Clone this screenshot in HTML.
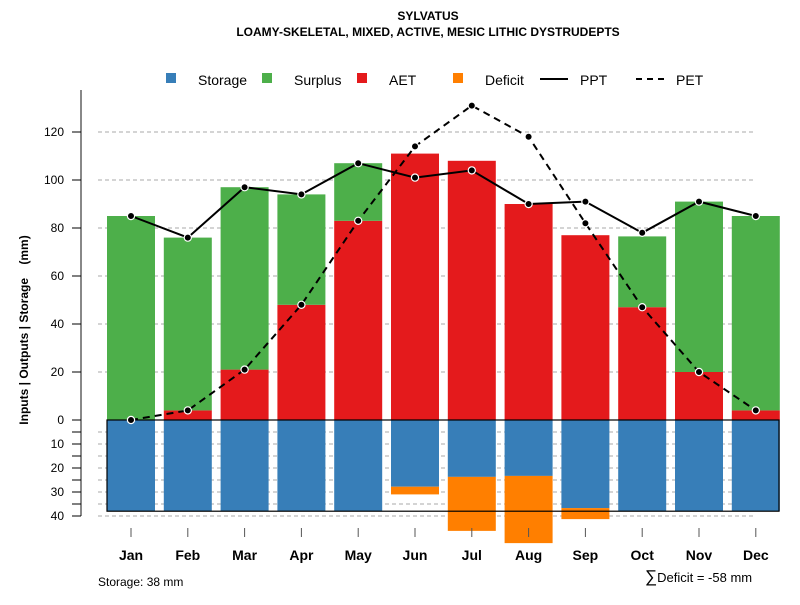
<!DOCTYPE html>
<html><head><meta charset="utf-8"><style>
body{margin:0;background:#fff}
svg text{font-family:"Liberation Sans",sans-serif}
</style></head><body>
<svg id="c" width="800" height="600" xmlns="http://www.w3.org/2000/svg">
<text x="428" y="20" text-anchor="middle" font-size="12" font-weight="bold">SYLVATUS</text>
<text x="428" y="36" text-anchor="middle" font-size="12" font-weight="bold">LOAMY-SKELETAL, MIXED, ACTIVE, MESIC LITHIC DYSTRUDEPTS</text>
<g>
<rect x="166" y="73" width="10" height="10" fill="#377eb8"/>
<text x="198" y="85" font-size="14">Storage</text>
<rect x="262" y="73" width="10" height="10" fill="#4daf4a"/>
<text x="294" y="85" font-size="14">Surplus</text>
<rect x="357" y="73" width="10" height="10" fill="#e41a1c"/>
<text x="389" y="85" font-size="14">AET</text>
<rect x="453" y="73" width="10" height="10" fill="#ff7f00"/>
<text x="485" y="85" font-size="14">Deficit</text>
<line x1="540" y1="79" x2="568" y2="79" stroke="#000" stroke-width="2"/>
<text x="580" y="85" font-size="14">PPT</text>
<line x1="636" y1="79" x2="664" y2="79" stroke="#000" stroke-width="2" stroke-dasharray="6,5"/>
<text x="676" y="85" font-size="14">PET</text>
</g>
<text transform="translate(28,330) rotate(-90)" text-anchor="middle" font-size="12" font-weight="bold" style="white-space:pre">Inputs | Outputs | Storage    (mm)</text>
<text x="98" y="586" font-size="12">Storage: 38 mm</text>
<text x="645" y="582" font-size="13"><tspan font-size="17">∑</tspan>Deficit = -58 mm</text>
<g id="grid"></g><g id="bars"></g><g id="axes"></g><g id="lines"></g>
</svg>
<script>
const months=["Jan","Feb","Mar","Apr","May","Jun","Jul","Aug","Sep","Oct","Nov","Dec"];
const ppt=[85,76,97,94,107,101,104,90,91,78,91,85];
const pet=[0,4,21,48,83,114,131,118,82,47,20,4];
const aet=[0,4,21,48,83,111,108,90,77,47,20,4];
const surplus=[85,72,76,46,24,0,0,0,0,29.5,71,81];
const storage=[38,38,38,38,38,27.8,23.7,23.3,36.7,38,38,38];
const deficit=[0,0,0,0,0,3.2,22.5,28,4.6,0,0,0];
const upTicks=[0,20,40,60,80,100,120];
const downTicks=[0,10,20,30,40];
const NS="http://www.w3.org/2000/svg";
const y=v=>420-2.4*v;
const x=i=>131+56.8*i;
const bw=48;
function mk(t,a,p){const e=document.createElementNS(NS,t);for(const k in a)e.setAttribute(k,a[k]);document.getElementById(p).appendChild(e);return e;}
for(const t of upTicks){if(t===0)continue;const g=mk('line',{x1:98,x2:755,y1:y(t),y2:y(t),stroke:'#aaa','stroke-dasharray':'4,3'},'grid');

}
for(let t=5;t<=40;t+=5){const g=mk('line',{x1:98,x2:755,y1:y(-t),y2:y(-t),stroke:'#aaa','stroke-dasharray':'4,3'},'grid');

}
months.forEach((m,i)=>{const l=x(i)-bw/2;
let r=mk('rect',{x:l,y:y(aet[i]),width:bw,height:2.4*aet[i],fill:'#e41a1c'},'bars');


r=mk('rect',{x:l,y:y(aet[i]+surplus[i]),width:bw,height:2.4*surplus[i],fill:'#4daf4a'},'bars');


r=mk('rect',{x:l,y:420,width:bw,height:2.4*storage[i],fill:'#377eb8'},'bars');


r=mk('rect',{x:l,y:420+2.4*storage[i],width:bw,height:2.4*deficit[i],fill:'#ff7f00'},'bars');


let t=mk('line',{x1:x(i),x2:x(i),y1:528,y2:537,stroke:'#555'},'axes');


t=mk('text',{x:x(i),y:560,'text-anchor':'middle','font-size':14,'font-weight':'bold'},'axes');t.textContent=m;

});
let b=mk('rect',{x:107,y:420,width:672,height:2.4*38,fill:'none',stroke:'#000','stroke-width':1.2},'axes');


let a=mk('line',{x1:81,x2:81,y1:90,y2:516,stroke:'#888','stroke-width':2},'axes');


for(const t of upTicks){let e=mk('line',{x1:72,x2:81,y1:y(t),y2:y(t),stroke:'#000'},'axes');


e=mk('text',{x:64,y:y(t)+4,'text-anchor':'end','font-size':12},'axes');e.textContent=t;

}
for(let t=5;t<=40;t+=5){let e=mk('line',{x1:72,x2:81,y1:y(-t),y2:y(-t),stroke:'#000'},'axes');

}
for(const t of downTicks){if(t===0)continue;let e=mk('text',{x:64,y:y(-t)+4,'text-anchor':'end','font-size':12},'axes');e.textContent=t;

}
function series(vals,name,dash){
const d=vals.map((v,i)=>(i?'L':'M')+x(i)+','+y(v)).join(' ');
const p=mk('path',{d:d,fill:'none',stroke:'#000','stroke-width':2,'stroke-dasharray':dash||'none'},'lines');


vals.forEach((v,i)=>{const c=mk('circle',{cx:x(i),cy:y(v),r:3.6,fill:'#000',stroke:'#fff','stroke-width':1.2},'lines');

});}
series(pet,'pet','7,5');
series(ppt,'ppt');
</script>
</body></html>
